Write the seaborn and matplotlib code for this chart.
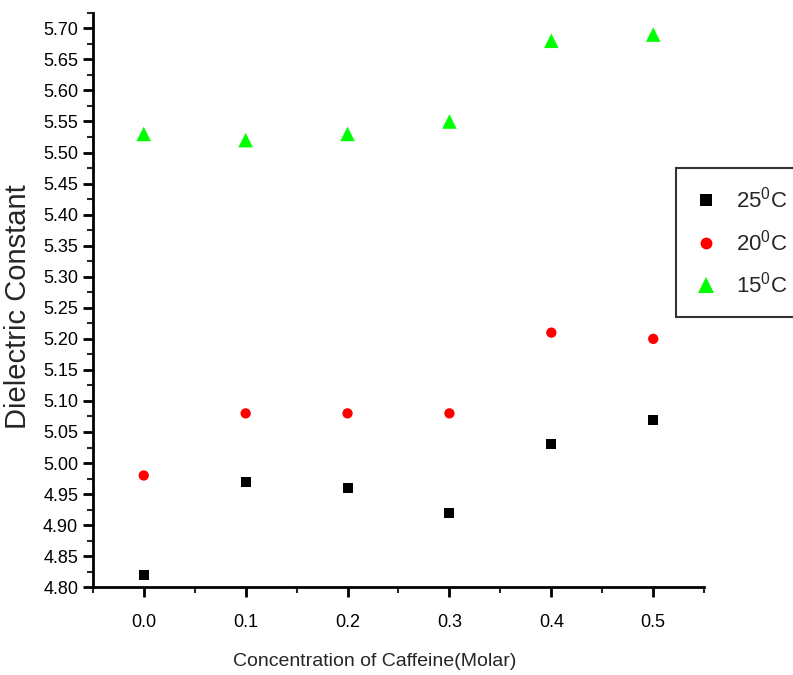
import pandas as pd
import matplotlib.pyplot as plt
from matplotlib.ticker import MultipleLocator
import seaborn as sns

# data
conc = [0.0, 0.1, 0.2, 0.3, 0.4, 0.5]
t25 = [4.82, 4.97, 4.96, 4.92, 5.03, 5.07]
t20 = [4.98, 5.08, 5.08, 5.08, 5.21, 5.20]
t15 = [5.53, 5.52, 5.53, 5.55, 5.68, 5.69]
labels = [r'25$^{\mathregular{0}}$C', r'20$^{\mathregular{0}}$C', r'15$^{\mathregular{0}}$C']
colors = ['black', 'red', '#00ff00']
markers = ['s', 'o', '^']
msizes = [52, 55, 110]

sns.set_theme(style='ticks')
plt.rcParams['font.family'] = ['Liberation Sans', 'DejaVu Sans']
plt.rcParams['mathtext.fontset'] = 'custom'
plt.rcParams['mathtext.rm'] = 'Liberation Sans'

df = pd.DataFrame({
    'conc': conc * 3,
    'val': t25 + t20 + t15,
    'temp': [labels[0]] * 6 + [labels[1]] * 6 + [labels[2]] * 6,
})

fig = plt.figure(figsize=(7.93, 6.75), dpi=100)
ax = fig.add_axes([0.117, 0.130, 0.771, 0.851])
sns.scatterplot(data=df, x='conc', y='val', hue='temp', style='temp', size='temp',
                palette=dict(zip(labels, colors)), markers=dict(zip(labels, markers)),
                sizes=dict(zip(labels, msizes)), linewidth=0, ax=ax)

ax.set_xlim(-0.05, 0.55)
ax.set_ylim(4.80, 5.725)
ax.xaxis.set_major_locator(MultipleLocator(0.1))
ax.xaxis.set_minor_locator(MultipleLocator(0.05))
ax.yaxis.set_major_locator(MultipleLocator(0.05))
ax.yaxis.set_minor_locator(MultipleLocator(0.025))
ax.xaxis.set_major_formatter(lambda v, p: f'{v:.1f}')
ax.yaxis.set_major_formatter(lambda v, p: f'{v:.2f}')
ax.tick_params(which='major', direction='out', length=7, width=2, labelsize=13, colors='black')
ax.tick_params(which='minor', direction='out', length=4, width=1.5)
ax.tick_params(axis='x', pad=12)
for s in ['left', 'bottom']:
    ax.spines[s].set_linewidth(2)
    ax.spines[s].set_color('black')
sns.despine(ax=ax)

ax.set_xlabel('Concentration of Caffeine(Molar)', fontsize=14)
ax.set_ylabel('Dielectric Constant', fontsize=21)
ax.xaxis.set_label_coords(0.4615, -0.114)
ax.yaxis.set_label_coords(-0.100, 0.488)

leg = ax.legend(loc='upper left', bbox_to_anchor=(0.8525, 0.751), bbox_transform=fig.transFigure,
                frameon=True, fancybox=False, fontsize=16, borderaxespad=0, markerscale=1.15,
                handlelength=1.0, handletextpad=0.85, labelspacing=0.75, borderpad=0.85)
leg.get_frame().set_edgecolor('black')
leg.get_frame().set_linewidth(1.5)

fig.savefig('out.png', dpi=100)
